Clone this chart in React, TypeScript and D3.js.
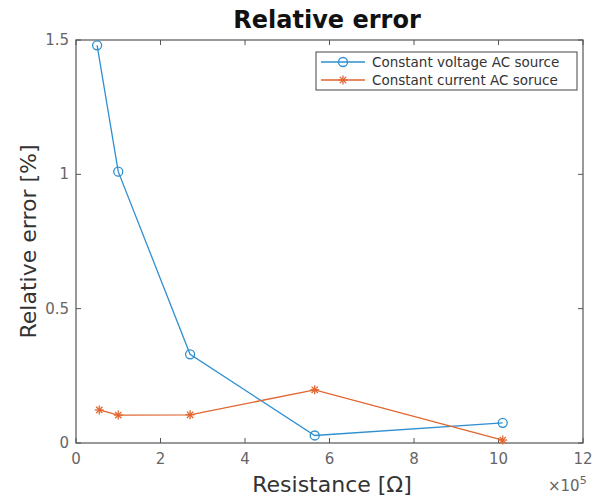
import * as d3 from "d3";
import { useEffect, useRef } from "react";

const resistance = [0.5, 1.0, 2.7, 5.65, 10.1];
const voltageErr = [1.48, 1.01, 0.33, 0.028, 0.075];
const resistanceI = [0.55, 1.0, 2.7, 5.65, 10.1];
const currentErr = [0.123, 0.104, 0.105, 0.198, 0.011];
const xTicks = [0, 2, 4, 6, 8, 10, 12];
const yTicks = [0, 0.5, 1, 1.5];
const seriesNames = ["Constant voltage AC source", "Constant current AC soruce"];

export default function App() {
  const ref = useRef<SVGSVGElement>(null);

  useEffect(() => {
    const svg = d3.select(ref.current);
    svg.selectAll("*").remove();
    const font = "DejaVu Sans, sans-serif";
    const axisCol = "#555";
    const blue = "#2f8fd0";
    const orange = "#e0652f";

    const left = 76, right = 583, top = 40, bottom = 443;
    const x = d3.scaleLinear().domain([0, 12]).range([left, right]);
    const y = d3.scaleLinear().domain([0, 1.5]).range([bottom, top]);

    svg.append("rect").attr("width", 604).attr("height", 498).attr("fill", "#fff");

    // box
    svg.append("rect")
      .attr("x", left).attr("y", top)
      .attr("width", right - left).attr("height", bottom - top)
      .attr("fill", "none").attr("stroke", axisCol).attr("stroke-width", 1.2);

    // ticks inward on all sides
    const tl = 5;
    xTicks.forEach((t) => {
      svg.append("line").attr("x1", x(t)).attr("x2", x(t)).attr("y1", bottom).attr("y2", bottom - tl)
        .attr("stroke", axisCol);
      svg.append("line").attr("x1", x(t)).attr("x2", x(t)).attr("y1", top).attr("y2", top + tl)
        .attr("stroke", axisCol);
      svg.append("text").attr("x", x(t)).attr("y", bottom + 21)
        .attr("text-anchor", "middle").attr("font-family", font).attr("font-size", 15)
        .attr("fill", "#666").text(d3.format("")(t));
    });
    yTicks.forEach((t) => {
      svg.append("line").attr("x1", left).attr("x2", left + tl).attr("y1", y(t)).attr("y2", y(t))
        .attr("stroke", axisCol);
      svg.append("line").attr("x1", right).attr("x2", right - tl).attr("y1", y(t)).attr("y2", y(t))
        .attr("stroke", axisCol);
      svg.append("text").attr("x", left - 7).attr("y", y(t) + 5)
        .attr("text-anchor", "end").attr("font-family", font).attr("font-size", 15)
        .attr("fill", "#666").text(String(t));
    });

    // title and labels
    svg.append("text").attr("x", 327).attr("y", 28).attr("text-anchor", "middle")
      .attr("font-family", font).attr("font-size", 24).attr("font-weight", "bold")
      .attr("fill", "#111").text("Relative error");
    svg.append("text").attr("x", 332).attr("y", 492).attr("text-anchor", "middle")
      .attr("font-family", font).attr("font-size", 22).attr("fill", "#333")
      .text("Resistance [Ω]");
    svg.append("text")
      .attr("transform", `translate(36,${(top + bottom) / 2}) rotate(-90)`)
      .attr("text-anchor", "middle").attr("font-family", font).attr("font-size", 22)
      .attr("fill", "#333").text("Relative error [%]");
    const mult = svg.append("text").attr("x", 548).attr("y", 491)
      .attr("font-family", font).attr("font-size", 15).attr("fill", "#666");
    mult.append("tspan").text("×10");
    mult.append("tspan").attr("dy", -7).attr("font-size", 11).text("5");

    const line = d3.line<[number, number]>().x((d) => x(d[0])).y((d) => y(d[1]));
    const vData: [number, number][] = resistance.map((r, i) => [r, voltageErr[i]]);
    const cData: [number, number][] = resistanceI.map((r, i) => [r, currentErr[i]]);

    svg.append("path").datum(vData).attr("d", line).attr("fill", "none")
      .attr("stroke", blue).attr("stroke-width", 1.3);
    svg.append("path").datum(cData).attr("d", line).attr("fill", "none")
      .attr("stroke", orange).attr("stroke-width", 1.3);

    const circle = (g: any, cx: number, cy: number) =>
      g.append("circle").attr("cx", cx).attr("cy", cy).attr("r", 4.5)
        .attr("fill", "none").attr("stroke", blue).attr("stroke-width", 1.3);
    const star = (g: any, cx: number, cy: number) => {
      const r = 4.5;
      const p = [
        [0, -r, 0, r], [-r, 0, r, 0], [-r * 0.7, -r * 0.7, r * 0.7, r * 0.7], [-r * 0.7, r * 0.7, r * 0.7, -r * 0.7],
      ];
      p.forEach((s) => g.append("line")
        .attr("x1", cx + s[0]).attr("y1", cy + s[1]).attr("x2", cx + s[2]).attr("y2", cy + s[3])
        .attr("stroke", orange).attr("stroke-width", 1.3));
    };
    vData.forEach((d) => circle(svg, x(d[0]), y(d[1])));
    cData.forEach((d) => star(svg, x(d[0]), y(d[1])));

    // legend
    const lx = 316, ly = 52, lw = 261, lh = 38;
    svg.append("rect").attr("x", lx).attr("y", ly).attr("width", lw).attr("height", lh)
      .attr("fill", "#fff").attr("stroke", "#444").attr("stroke-width", 1);
    seriesNames.forEach((name, i) => {
      const yy = ly + 10 + i * 18;
      svg.append("line").attr("x1", lx + 5).attr("x2", lx + 49).attr("y1", yy).attr("y2", yy)
        .attr("stroke", i === 0 ? blue : orange).attr("stroke-width", 1.3);
      if (i === 0) circle(svg, lx + 27, yy);
      else star(svg, lx + 27, yy);
      svg.append("text").attr("x", lx + 56).attr("y", yy + 4.5)
        .attr("font-family", font).attr("font-size", 13.5).attr("fill", "#333").text(name);
    });
  }, []);

  return (
    <svg ref={ref} width={604} height={498}
      style={{ position: "absolute", left: 0, top: 0, display: "block" }} />
  );
}
